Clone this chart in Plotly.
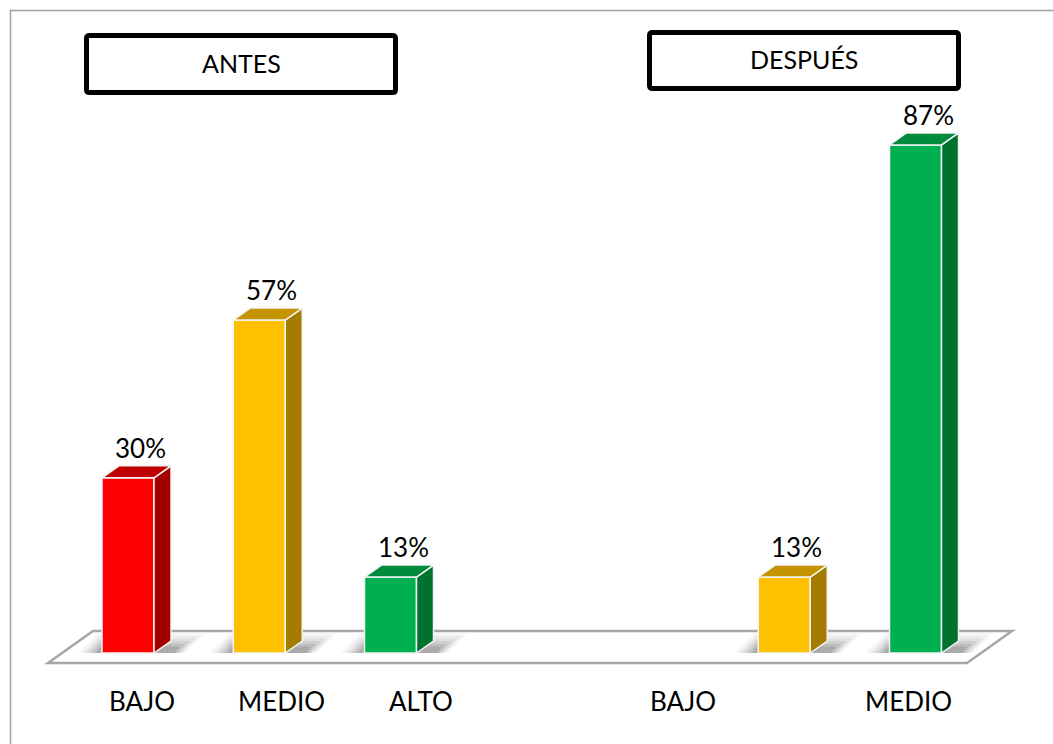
import plotly.graph_objects as go

# ---- data -------------------------------------------------------------
levels = ["BAJO", "MEDIO", "ALTO"]
antes_values = [30, 57, 13]          # % por nivel, antes
despues_values = [0, 13, 87]         # % por nivel, después
antes_labels = ["BAJO", "MEDIO", "ALTO"]
despues_labels = ["BAJO", "MEDIO"]
group_titles = ["ANTES", "DESPUÉS"]

# ---- style ------------------------------------------------------------
FRONT = {"BAJO": "#FF0000", "MEDIO": "#FFC000", "ALTO": "#00B050"}
SIDE = {"BAJO": "#A20000", "MEDIO": "#A47C00", "ALTO": "#00722F"}
TOP = {"BAJO": "#C00000", "MEDIO": "#C39300", "ALTO": "#008A3D"}
FONT = "Lato"

W, H = 1053, 744
X0_PX, SLOT_PX = 128.0, 131.25      # pixel of slot 0, pixels per slot
BASE_PX, PCT_PX = 653.0, 5.84       # pixel of 0 %, pixels per %
BAR_W = 52 / SLOT_PX
DEPTH_X, DEPTH_Y = 17 / SLOT_PX, 12 / PCT_PX


def ux(px):
    return px / SLOT_PX


def uy(px):
    return px / PCT_PX


def paper(px, py):
    return px / W, 1 - py / H


# slots: antes -> 0,1,2 ; despues -> 4,5,6
bars = []
for i, lv in enumerate(levels):
    bars.append((i, antes_values[i], lv))
for i, lv in enumerate(levels):
    bars.append((4 + i, despues_values[i], lv))
bars = [b for b in bars if b[1] > 0]

fig = go.Figure()
shapes = []

# outer frame
fx0, fy0 = paper(10.5, 10.5)
fx1, fy1 = paper(1070, 770)
shapes.append(dict(type="rect", xref="paper", yref="paper", x0=fx0, y0=fy0, x1=fx1, y1=fy1,
                   line=dict(color="#A0A0A0", width=1.5), fillcolor="rgba(0,0,0,0)", layer="below"))

# floor
fl_front, fl_back = uy(-10), uy(22)
fl_left, fl_right, fl_shift = ux(48 - X0_PX), ux(967 - X0_PX), ux(45)
shapes.append(dict(
    type="path", xref="x", yref="y",
    path=(f"M {fl_left},{fl_front} L {fl_right},{fl_front} "
          f"L {fl_right + fl_shift},{fl_back} L {fl_left + fl_shift},{fl_back} Z"),
    line=dict(color="#A6A6A6", width=2.5), fillcolor="white", layer="below"))

# soft shadows on the floor
for c, v, lv in bars:
    xl, xr = c - BAR_W / 2, c + BAR_W / 2 + DEPTH_X
    for s, op in [(1.0, 0.04), (0.85, 0.05), (0.7, 0.07), (0.55, 0.09), (0.4, 0.11), (0.25, 0.13)]:
        a = ux(24 * s)
        h = uy(18 * s + 2)
        sh = ux(20 * s)
        shapes.append(dict(
            type="path", xref="x", yref="y",
            path=(f"M {xl - a},{0} L {xr + a * 0.6},{0} "
                  f"L {xr + a * 0.6 + sh},{h} L {xl - a + sh},{h} Z"),
            line=dict(width=0), fillcolor=f"rgba(50,50,50,{op})", layer="below"))

# front faces
fig.add_trace(go.Bar(
    x=[b[0] for b in bars], y=[b[1] for b in bars], width=BAR_W,
    marker=dict(color=[FRONT[b[2]] for b in bars], line=dict(color="#F4F4F4", width=1.5)),
    hoverinfo="skip"))

# side and top faces
for c, v, lv in bars:
    r = c + BAR_W / 2
    l = c - BAR_W / 2
    fig.add_trace(go.Scatter(
        x=[r, r + DEPTH_X, r + DEPTH_X, r, r], y=[0, DEPTH_Y, v + DEPTH_Y, v, 0],
        mode="lines", fill="toself", fillcolor=SIDE[lv],
        line=dict(color="#F4F4F4", width=1.5), hoverinfo="skip"))
    fig.add_trace(go.Scatter(
        x=[l, r, r + DEPTH_X, l + DEPTH_X, l], y=[v, v, v + DEPTH_Y, v + DEPTH_Y, v],
        mode="lines", fill="toself", fillcolor=TOP[lv],
        line=dict(color="#F4F4F4", width=1.5), hoverinfo="skip"))

annotations = []
# value labels
for c, v, lv in bars:
    annotations.append(dict(
        x=c + DEPTH_X / 2 + ux(4), y=v, xref="x", yref="y", text=f"{v}%",
        showarrow=False, yshift=30, xanchor="center", yanchor="middle",
        font=dict(family=FONT, size=26, color="#000000")))

# category labels
cat_x = [0.11, 1.17, 2.23, 4.23, 5.95]
for x, t in zip(cat_x, antes_labels + despues_labels):
    annotations.append(dict(
        x=x, y=uy(-48), xref="x", yref="y", text=t, showarrow=False,
        xanchor="center", yanchor="middle",
        font=dict(family=FONT, size=26, color="#000000")))


# group title boxes
def rounded_rect(x0, y0, x1, y1, r):
    p = lambda px, py: "{:.5f},{:.5f}".format(*paper(px, py))
    return (f"M {p(x0 + r, y0)} L {p(x1 - r, y0)} Q {p(x1, y0)} {p(x1, y0 + r)} "
            f"L {p(x1, y1 - r)} Q {p(x1, y1)} {p(x1 - r, y1)} "
            f"L {p(x0 + r, y1)} Q {p(x0, y1)} {p(x0, y1 - r)} "
            f"L {p(x0, y0 + r)} Q {p(x0, y0)} {p(x0 + r, y0)} Z")


boxes = [(86.5, 35.5, 395.5, 92.5), (649.5, 32.5, 958.5, 88.5)]
for (x0, y0, x1, y1), title in zip(boxes, group_titles):
    shapes.append(dict(type="path", xref="paper", yref="paper",
                       path=rounded_rect(x0, y0, x1, y1, 3),
                       line=dict(color="#000000", width=5), fillcolor="white"))
    tx, ty = paper((x0 + x1) / 2, (y0 + y1) / 2 - 1)
    annotations.append(dict(x=tx, y=ty, xref="paper", yref="paper", text=title,
                            showarrow=False, xanchor="center", yanchor="middle",
                            font=dict(family=FONT, size=25, color="#000000")))

fig.update_layout(
    width=W, height=H, autosize=False,
    margin=dict(l=0, r=0, t=0, b=0, pad=0),
    paper_bgcolor="white", plot_bgcolor="white",
    showlegend=False,
    xaxis=dict(range=[-X0_PX / SLOT_PX, (W - X0_PX) / SLOT_PX], visible=False, fixedrange=True),
    yaxis=dict(range=[-(H - BASE_PX) / PCT_PX, BASE_PX / PCT_PX], visible=False, fixedrange=True),
    shapes=shapes, annotations=annotations,
)

fig.write_html("out.html")
